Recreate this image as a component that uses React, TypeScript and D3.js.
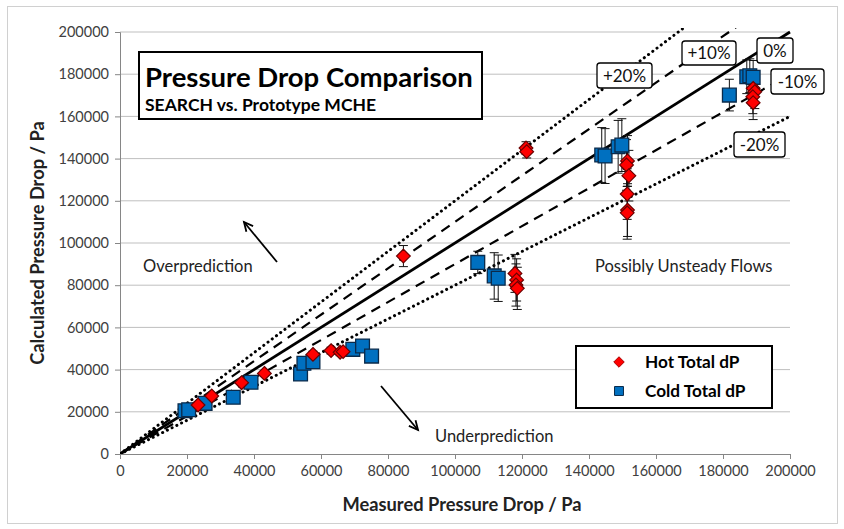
import React, { useRef, useEffect } from 'react';
import * as d3 from 'd3';

// measured (x) vs calculated (y) pressure drop, Pa
const hotX = [23300, 27400, 36300, 43100, 57600, 63000, 65700, 66600, 84600, 121200, 121400, 117900, 118400, 118200, 118600, 151500, 151200, 151900, 151400, 151500, 151400, 189000, 189500, 188900, 189000];
const hotY = [23200, 27500, 33800, 38200, 47200, 49000, 48200, 48500, 93800, 145000, 143300, 85600, 82500, 80100, 78500, 138900, 137000, 131900, 123200, 115600, 114300, 173300, 171700, 169300, 166500];
const hotErr = [800, 900, 1100, 1200, 1500, 1600, 1600, 1600, 5000, 3000, 3000, 9000, 10000, 10000, 10000, 12000, 12000, 12000, 12000, 12500, 12500, 8000, 8000, 8000, 8000];

const coldX = [19400, 20500, 25400, 33800, 39100, 53900, 54900, 57600, 69500, 72400, 75100, 106800, 111700, 112900, 143800, 144800, 148700, 149800, 181900, 187100, 188000, 189000];
const coldY = [20500, 21000, 24000, 26900, 34000, 37900, 43000, 43700, 49600, 51200, 46400, 90800, 84400, 83300, 141700, 141200, 145600, 146400, 170100, 178800, 179300, 178500];
const coldErr = [700, 700, 800, 900, 1100, 1200, 1400, 1400, 1600, 1700, 1500, 5300, 11000, 11000, 13000, 13000, 12500, 12500, 7500, 8000, 8000, 8000];

const axisTicks = [0, 20000, 40000, 60000, 80000, 100000, 120000, 140000, 160000, 180000, 200000];

// deviation lines: ratio, style, label and label box [x0, y0, x1, y1] in px
const refLines = [
  { ratio: 1.2, dash: 'dot', label: '+20%', box: [597, 63, 652, 88] },
  { ratio: 1.1, dash: 'dash', label: '+10%', box: [682, 41, 736, 65] },
  { ratio: 1.0, dash: 'solid', label: '0%', box: [757, 38, 793, 63] },
  { ratio: 0.9, dash: 'dash', label: '-10%', box: [771, 69, 824, 94] },
  { ratio: 0.8, dash: 'dot', label: '-20%', box: [734, 132, 785, 157] },
];

const FONT = 'Lato, "Open Sans", sans-serif';

const App = () => {
  const ref = useRef(null);

  useEffect(() => {
    const svg = d3.select(ref.current);
    svg.selectAll('*').remove();

    const x = d3.scaleLinear().domain([0, 200000]).range([120, 790]);
    const y = d3.scaleLinear().domain([0, 200000]).range([454, 32]);

    // outer chart border
    svg.append('rect')
      .attr('x', 7.5).attr('y', 6.5).attr('width', 830).attr('height', 517)
      .attr('fill', 'white').attr('stroke', '#d0d0d0');

    svg.append('defs').append('clipPath').attr('id', 'plotClip')
      .append('rect').attr('x', 120).attr('y', 28).attr('width', 690).attr('height', 426);

    // gridlines
    svg.append('g').selectAll('line').data(axisTicks.slice(1)).enter().append('line')
      .attr('x1', 120).attr('x2', 790)
      .attr('y1', d => y(d)).attr('y2', d => y(d))
      .attr('stroke', '#bfbfbf').attr('stroke-width', 1);

    // axes
    const yAxis = svg.append('g')
      .attr('transform', 'translate(120,0)')
      .call(d3.axisLeft(y).tickValues(axisTicks).tickFormat(d3.format('d')).tickSize(5).tickPadding(6));
    const xAxis = svg.append('g')
      .attr('transform', 'translate(0,454)')
      .call(d3.axisBottom(x).tickValues(axisTicks).tickFormat(d3.format('d')).tickSize(5).tickPadding(7));
    [xAxis, yAxis].forEach(a => {
      a.select('.domain').attr('stroke', '#868686');
      a.selectAll('.tick line').attr('stroke', '#868686');
      a.selectAll('.tick text').attr('fill', '#404040').style('font-family', FONT).style('font-size', '14.5px');
    });

    // reference lines
    const lines = svg.append('g').attr('clip-path', 'url(#plotClip)');
    refLines.forEach(r => {
      const endX = Math.min(200000, 205000 / r.ratio);
      const ln = lines.append('line')
        .attr('x1', x(0)).attr('y1', y(0))
        .attr('x2', x(endX)).attr('y2', y(endX * r.ratio))
        .attr('stroke', 'black');
      if (r.dash === 'solid') ln.attr('stroke-width', 2.8);
      if (r.dash === 'dash') ln.attr('stroke-width', 2.2).attr('stroke-dasharray', '10,7');
      if (r.dash === 'dot') ln.attr('stroke-width', 3).attr('stroke-dasharray', '0.1,5.2').attr('stroke-linecap', 'round');
    });

    // error bars
    const drawErr = (xs, ys, es) => {
      const g = svg.append('g').attr('stroke', '#111').attr('stroke-width', 1);
      xs.forEach((v, i) => {
        const cx = x(v), top = y(ys[i] + es[i]), bot = y(ys[i] - es[i]);
        g.append('line').attr('x1', cx).attr('x2', cx).attr('y1', top).attr('y2', bot);
        g.append('line').attr('x1', cx - 4.5).attr('x2', cx + 4.5).attr('y1', top).attr('y2', top);
        g.append('line').attr('x1', cx - 4.5).attr('x2', cx + 4.5).attr('y1', bot).attr('y2', bot);
      });
    };
    drawErr(coldX, coldY, coldErr);
    drawErr(hotX, hotY, hotErr);

    const square = d3.symbol().type(d3.symbolSquare).size(190);
    const diamond = d3.symbol().type(d3.symbolDiamond2).size(120);

    svg.append('g').selectAll('path').data(coldX).enter().append('path')
      .attr('d', square)
      .attr('transform', (d, i) => `translate(${x(d)},${y(coldY[i])})`)
      .attr('fill', '#0070c0').attr('stroke', '#0a2a4a').attr('stroke-width', 1.3);

    svg.append('g').selectAll('path').data(hotX).enter().append('path')
      .attr('d', diamond)
      .attr('transform', (d, i) => `translate(${x(d)},${y(hotY[i])})`)
      .attr('fill', '#ff0000').attr('stroke', '#6b0000').attr('stroke-width', 1.2);

    // line labels
    refLines.forEach(r => {
      const [x0, y0, x1, y1] = r.box;
      svg.append('rect')
        .attr('x', x0).attr('y', y0).attr('width', x1 - x0).attr('height', y1 - y0)
        .attr('rx', 3).attr('fill', 'white').attr('stroke', 'black').attr('stroke-width', 1.3);
      svg.append('text')
        .attr('x', (x0 + x1) / 2).attr('y', (y0 + y1) / 2 + 6)
        .attr('text-anchor', 'middle')
        .style('font-family', FONT).style('font-size', '17px').attr('fill', '#111')
        .text(r.label);
    });

    // title box
    svg.append('rect')
      .attr('x', 139).attr('y', 52).attr('width', 343).attr('height', 67)
      .attr('fill', 'white').attr('stroke', 'black').attr('stroke-width', 2);
    svg.append('text').attr('x', 145).attr('y', 87)
      .style('font-family', FONT).style('font-size', '27.5px').style('font-weight', 'bold')
      .text('Pressure Drop Comparison');
    svg.append('text').attr('x', 145).attr('y', 111)
      .style('font-family', FONT).style('font-size', '17.5px').style('font-weight', 'bold')
      .text('SEARCH vs. Prototype MCHE');

    // annotations
    const note = (tx, ty, s) => svg.append('text').attr('x', tx).attr('y', ty)
      .style('font-family', FONT).style('font-size', '16.5px').attr('fill', '#222').text(s);
    note(143, 272, 'Overprediction');
    note(595, 272, 'Possibly Unsteady Flows');
    note(435, 442, 'Underprediction');

    const arrow = (x1, y1, x2, y2) => {
      svg.append('line').attr('x1', x1).attr('y1', y1).attr('x2', x2).attr('y2', y2)
        .attr('stroke', 'black').attr('stroke-width', 1.8);
      const a = Math.atan2(y2 - y1, x2 - x1);
      const hl = 10, hw = 0.45;
      const p1 = [x2 - hl * Math.cos(a - hw), y2 - hl * Math.sin(a - hw)];
      const p2 = [x2 - hl * Math.cos(a + hw), y2 - hl * Math.sin(a + hw)];
      svg.append('path').attr('d', `M${p1[0]},${p1[1]}L${x2},${y2}L${p2[0]},${p2[1]}`)
        .attr('fill', 'none').attr('stroke', 'black').attr('stroke-width', 1.8);
    };
    arrow(277, 262, 244, 222);
    arrow(381, 386, 418, 430);

    // legend
    svg.append('rect')
      .attr('x', 576).attr('y', 346).attr('width', 196).attr('height', 62)
      .attr('fill', 'white').attr('stroke', 'black').attr('stroke-width', 2);
    svg.append('path').attr('d', d3.symbol().type(d3.symbolDiamond2).size(70))
      .attr('transform', 'translate(619,362)').attr('fill', '#ff0000').attr('stroke', '#aa0000');
    svg.append('path').attr('d', d3.symbol().type(d3.symbolSquare).size(80))
      .attr('transform', 'translate(619,391)').attr('fill', '#0070c0').attr('stroke', '#0a2a4a');
    svg.append('text').attr('x', 645).attr('y', 368)
      .style('font-family', FONT).style('font-size', '17.2px').style('font-weight', 'bold').text('Hot Total dP');
    svg.append('text').attr('x', 645).attr('y', 397)
      .style('font-family', FONT).style('font-size', '17.2px').style('font-weight', 'bold').text('Cold Total dP');

    // axis titles
    svg.append('text').attr('transform', 'translate(44,243) rotate(-90)')
      .attr('text-anchor', 'middle')
      .style('font-family', FONT).style('font-size', '18.3px').style('font-weight', 'bold').attr('fill', '#222')
      .text('Calculated Pressure Drop / Pa');
    svg.append('text').attr('x', 462).attr('y', 511)
      .attr('text-anchor', 'middle')
      .style('font-family', FONT).style('font-size', '18.3px').style('font-weight', 'bold').attr('fill', '#222')
      .text('Measured Pressure Drop / Pa');
  }, []);

  return <svg ref={ref} width={844} height={529} style={{ position: 'absolute', left: 0, top: 0 }}></svg>;
};

export default App;
